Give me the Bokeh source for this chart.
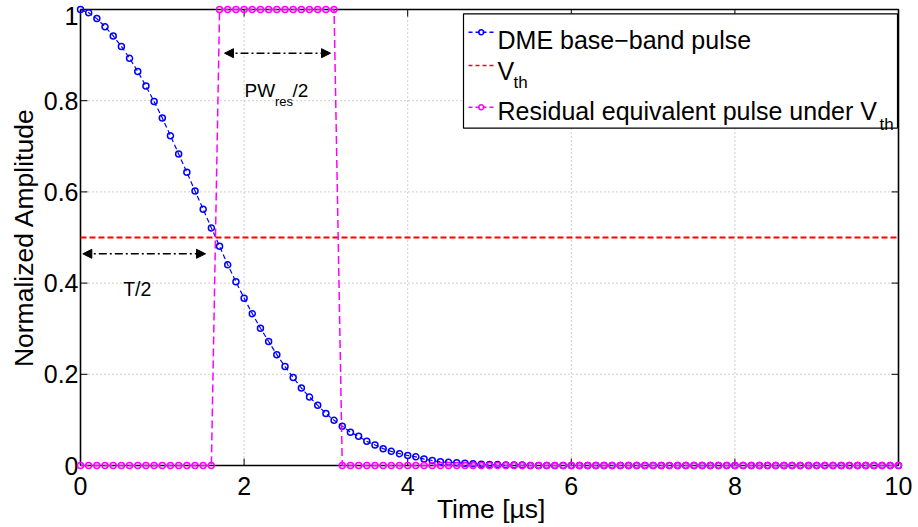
import math
from bokeh.plotting import figure
from bokeh.models import Range1d, Arrow, NormalHead, ColumnDataSource
from bokeh.core.properties import value
from bokeh.embed import file_html
from bokeh.resources import INLINE

# ---------------- data ----------------
time_us = [0.0, 0.1, 0.2, 0.3, 0.4, 0.5, 0.6, 0.7, 0.8, 0.9,
           1.0, 1.1, 1.2, 1.3, 1.4, 1.5, 1.6, 1.7, 1.8, 1.9,
           2.0, 2.1, 2.2, 2.3, 2.4, 2.5, 2.6, 2.7, 2.8, 2.9,
           3.0, 3.1, 3.2, 3.3, 3.4, 3.5, 3.6, 3.7, 3.8, 3.9,
           4.0, 4.1, 4.2, 4.3, 4.4, 4.5, 4.6, 4.7, 4.8, 4.9,
           5.0, 5.1, 5.2, 5.3, 5.4, 5.5, 5.6, 5.7, 5.8, 5.9,
           6.0, 6.1, 6.2, 6.3, 6.4, 6.5, 6.6, 6.7, 6.8, 6.9,
           7.0, 7.1, 7.2, 7.3, 7.4, 7.5, 7.6, 7.7, 7.8, 7.9,
           8.0, 8.1, 8.2, 8.3, 8.4, 8.5, 8.6, 8.7, 8.8, 8.9,
           9.0, 9.1, 9.2, 9.3, 9.4, 9.5, 9.6, 9.7, 9.8, 9.9, 10.0]

dme_pulse = [1.000, 0.993, 0.980, 0.962, 0.942, 0.919, 0.893, 0.864, 0.832, 0.798,
             0.762, 0.723, 0.683, 0.643, 0.602, 0.562, 0.521, 0.481, 0.440, 0.403,
             0.367, 0.333, 0.301, 0.272, 0.243, 0.217, 0.193, 0.170, 0.150, 0.132,
             0.114, 0.099, 0.086, 0.073, 0.064, 0.053, 0.045, 0.037, 0.031, 0.026,
             0.022, 0.019, 0.014, 0.011, 0.008, 0.007, 0.006, 0.005, 0.004, 0.003,
             0.002, 0.002, 0.001, 0.001, 0.001] + [0.0] * 46

residual_pulse = [0] * 17 + [1] * 15 + [0] * 69

vth_time = [0, 10]
vth_level = [0.5, 0.5]

x_ticks = [0, 2, 4, 6, 8, 10]
x_tick_labels = ["0", "2", "4", "6", "8", "10"]
y_ticks = [0, 0.2, 0.4, 0.6, 0.8, 1]
y_tick_labels = ["0", "0.2", "0.4", "0.6", "0.8", "1"]

x_label = "Time [µs]"
y_label = "Normalized Amplitude"
legend_labels = ["DME base−band pulse", "V", "Residual equivalent pulse under V"]

FONT = "Liberation Sans"
BLUE = "#0000ff"
RED = "#ff0000"
MAGENTA = "#ff00ff"

# ---------------- geometry (page pixels) ----------------
W, H = 918, 527                 # canvas
BOX_L, BOX_R = 80, 898          # axes box
BOX_T, BOX_B = 9, 465
XS = (BOX_R - BOX_L) / 10.0     # px per data unit
YS = (BOX_B - BOX_T) / 1.0


def dx(px):   # page pixel -> data x (annotation placement only)
    return (px - BOX_L) / XS


def dy(py):   # page pixel -> data y
    return (BOX_B - py) / YS


p = figure(width=W, height=H,
           x_range=Range1d(-BOX_L / XS, 10 + (W - BOX_R) / XS),
           y_range=Range1d(-(H - BOX_B) / YS, 1 + BOX_T / YS),
           output_backend="svg", toolbar_location=None,
           x_axis_location=None, y_axis_location=None)
p.min_border = 0
p.min_border_left = p.min_border_right = p.min_border_top = p.min_border_bottom = 0
p.outline_line_color = None
p.grid.visible = False
p.background_fill_color = "white"
p.border_fill_color = "white"

# grid (dotted, inside the box)
gx = [t for t in x_ticks if 0 < t < 10]
gy = [t for t in y_ticks if 0 < t < 1]
p.segment(x0=gx, x1=gx, y0=[0] * len(gx), y1=[1] * len(gx),
          line_color="#a0a0a0", line_width=1, line_dash="1 3")
p.segment(x0=[0] * len(gy), x1=[10] * len(gy), y0=gy, y1=gy,
          line_color="#a0a0a0", line_width=1, line_dash="1 3")

# axes box
p.quad(left=[0], right=[10], bottom=[0], top=[1], fill_color=None,
       line_color="black", line_width=1.6)

# inward ticks on all four sides
tl_y = 7 / YS
tl_x = 7 / XS
n = len(x_ticks)
m = len(y_ticks)
p.segment(x0=x_ticks, x1=x_ticks, y0=[0] * n, y1=[tl_y] * n, line_color="black", line_width=1)
p.segment(x0=x_ticks, x1=x_ticks, y0=[1] * n, y1=[1 - tl_y] * n, line_color="black", line_width=1)
p.segment(x0=[0] * m, x1=[tl_x] * m, y0=y_ticks, y1=y_ticks, line_color="black", line_width=1)
p.segment(x0=[10] * m, x1=[10 - tl_x] * m, y0=y_ticks, y1=y_ticks, line_color="black", line_width=1)

# tick labels
p.text(x=x_ticks, y=[dy(485)] * n, text=x_tick_labels, text_font=value(FONT),
       text_font_size="25px", text_align="center", text_baseline="middle", text_color="black")
y_lab_y = [min(t, dy(15)) for t in y_ticks]           # keep "1" fully inside the page
p.text(x=[dx(78)] * m, y=y_lab_y, text=y_tick_labels, text_font=value(FONT),
       text_font_size="25px", text_align="right", text_baseline="middle", text_color="black")

# axis labels
p.text(x=[5.02], y=[dy(508)], text=[x_label], text_font=value(FONT), text_font_size="26.5px",
       text_align="center", text_baseline="middle", text_color="black")
p.text(x=[dx(23)], y=[0.5], text=[y_label], text_font=value(FONT), text_font_size="26.5px",
       text_align="center", text_baseline="middle", text_color="black", angle=math.pi / 2)

# ---------------- data series ----------------
src = ColumnDataSource(dict(t=time_us, dme=dme_pulse, res=residual_pulse))

p.line("t", "dme", source=src, line_color=BLUE, line_width=1.2, line_dash="5 3")
p.scatter("t", "dme", source=src, marker="circle", size=6, fill_color=None,
          line_color=BLUE, line_width=1.5)
p.line(vth_time, vth_level, line_color=RED, line_width=2, line_dash="6 3")
p.line("t", "res", source=src, line_color=MAGENTA, line_width=1.5, line_dash="8 4")
p.scatter("t", "res", source=src, marker="circle", size=6, fill_color=None,
          line_color=MAGENTA, line_width=1.5)


# ---------------- annotations ----------------
def head():
    return NormalHead(size=9, fill_color="black", line_color="black", line_width=1)


p.add_layout(Arrow(start=head(), end=head(), x_start=dx(82.3), y_start=dy(253.3),
                   x_end=dx(205), y_end=dy(253.3), line_color="black", line_width=1.5,
                   line_dash="8 3 2 3"))
p.add_layout(Arrow(start=head(), end=head(), x_start=dx(224), y_start=dy(52.7),
                   x_end=dx(330), y_end=dy(52.7), line_color="black", line_width=1.5,
                   line_dash="8 3 2 3"))


def txt(px, py, s, size, align="left"):
    p.text(x=[dx(px)], y=[dy(py)], text=[s], text_font=value(FONT), text_font_size=size,
           text_align=align, text_baseline="alphabetic", text_color="black")


txt(122.7, 288.3, "T/2", "19.5px")
txt(244, 90, "PW", "19px")
txt(274.5, 101, "res", "13px")
txt(292, 90, "/2", "19px")

# legend (drawn manually so the subscripts can be rendered)
p.quad(left=[dx(463)], right=[dx(897)], top=[dy(13.3)], bottom=[dy(127.7)],
       fill_color="white", line_color="black", line_width=1.2)
rows = [(31.7, BLUE, True), (65.0, RED, False), (106.7, MAGENTA, True)]
for ry, col, mk in rows:
    p.line(x=[dx(468), dx(493)], y=[dy(ry), dy(ry)], line_color=col, line_width=1.5,
           line_dash="4 3")
    if mk:
        p.scatter(x=[dx(480.8)], y=[dy(ry)], marker="circle", size=5, fill_color=None,
                  line_color=col, line_width=1.4)

txt(497, 39.3, legend_labels[0], "25px")
txt(497, 70, legend_labels[1], "25px")
txt(513, 81.7, "th", "17px")
txt(497, 110, legend_labels[2], "25px")
txt(879, 124, "th", "17px")

open("out.html", "w").write(file_html(p, INLINE))
